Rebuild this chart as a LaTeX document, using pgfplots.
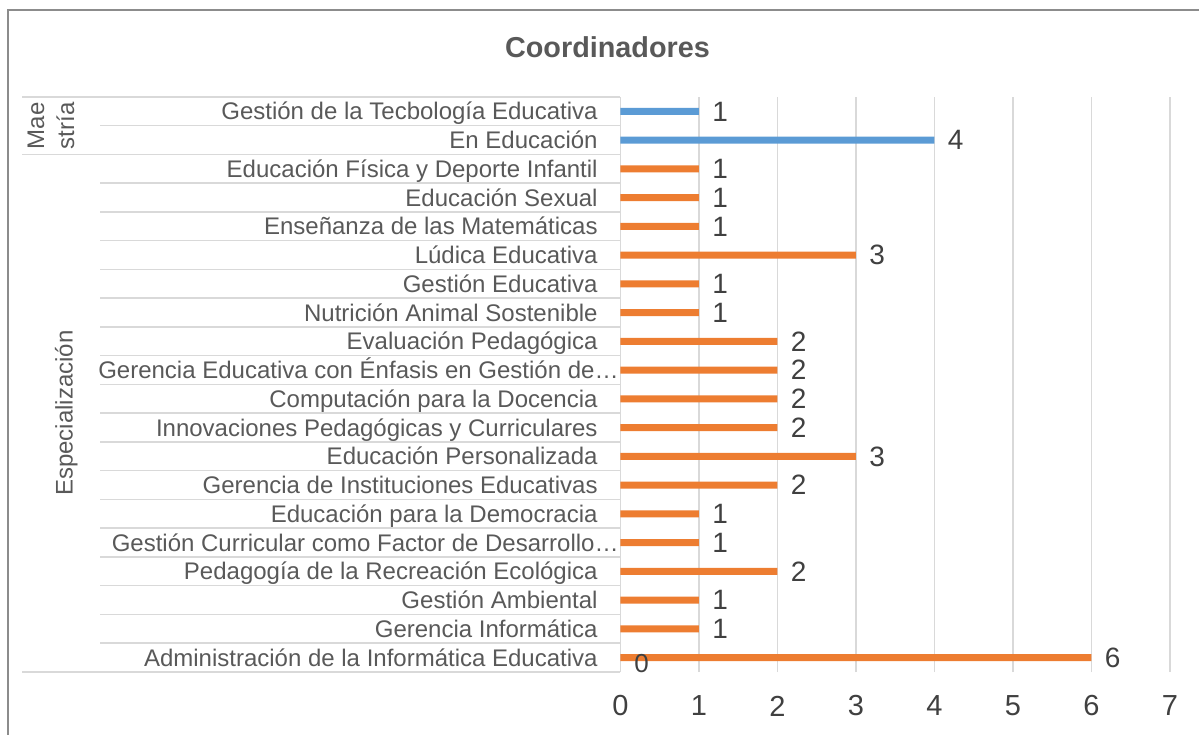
\documentclass[border=0pt]{standalone}
\usepackage{fontspec}
\setmainfont{Liberation Sans}
\usepackage{pgfplots}
\pgfplotsset{compat=1.18}
\definecolor{mblue}{HTML}{5B9BD5}
\definecolor{morange}{HTML}{ED7D31}
\definecolor{gridc}{HTML}{D9D9D9}
\definecolor{txt}{HTML}{595959}
\definecolor{lbl}{HTML}{404040}
\definecolor{framec}{HTML}{8C8C8C}

\begin{document}
\begin{tikzpicture}
\begin{axis}[
  scale only axis, width=274.75bp, height=287.5bp,
  xbar, bar width=3.5bp, bar shift=0pt,
  xmin=0, xmax=7, ymin=-0.5, ymax=19.5,
  xtick={0,...,7}, ytick={0,...,19},
  yticklabels={
    {Administración de la Informática Educativa},
    {Gerencia Informática},
    {Gestión Ambiental},
    {Pedagogía de la Recreación Ecológica},
    {Gestión Curricular como Factor de Desarrollo…\hspace*{-10.5bp}},
    {Educación para la Democracia},
    {Gerencia de Instituciones Educativas},
    {Educación Personalizada},
    {Innovaciones Pedagógicas y Curriculares},
    {Computación para la Docencia},
    {Gerencia Educativa con Énfasis en Gestión de…\hspace*{-10.5bp}},
    {Evaluación Pedagógica},
    {Nutrición Animal Sostenible},
    {Gestión Educativa},
    {Lúdica Educativa},
    {Enseñanza de las Matemáticas},
    {Educación Sexual},
    {Educación Física y Deporte Infantil},
    {En Educación},
    {Gestión de la Tecbología Educativa}},
  axis line style={draw=none}, major tick length=0pt,
  xmajorgrids, grid style={gridc, line width=0.75bp},
  xticklabel style={font=\fontsize{14.5bp}{17bp}\selectfont, text=lbl,
    anchor=center, inner sep=0pt, yshift=-17bp},
  yticklabel style={font=\fontsize{12bp}{14bp}\selectfont, text=txt,
    anchor=base east, inner sep=0pt, xshift=-11.25bp, yshift=-4.3bp},
  /pgf/number format/assume math mode=true,
  nodes near coords,
  nodes near coords style={font=\fontsize{14bp}{16bp}\selectfont, text=lbl,
    anchor=west, inner sep=0pt, xshift=6.5bp},
  clip=false,
]
% Maestría
\addplot[draw=none, fill=mblue] coordinates {(1,19) (4,18)};
% Especialización
\addplot[draw=none, fill=morange] coordinates {
  (6,0) (1,1) (1,2) (2,3) (1,4) (1,5) (2,6) (3,7) (2,8) (2,9)
  (2,10) (2,11) (1,12) (1,13) (3,14) (1,15) (1,16) (1,17)};

% category table lines
\pgfplotsinvokeforeach{0.5,1.5,...,16.5}{
  \draw[gridc, line width=0.75bp] (axis cs:-6.63,#1) -- (axis cs:0,#1);
}
\draw[gridc, line width=0.75bp] (axis cs:-6.63,18.5) -- (axis cs:0,18.5);
\pgfplotsinvokeforeach{-0.5,17.5,19.5}{
  \draw[gridc, line width=0.75bp] (axis cs:-7.62,#1) -- (axis cs:0,#1);
}
\node[rotate=90, align=center, font=\fontsize{12bp}{15bp}\selectfont, text=txt]
  at (axis cs:-7.255,18.5) {Mae\\stría};
\node[rotate=90, font=\fontsize{12bp}{15bp}\selectfont, text=txt]
  at (axis cs:-7.06,8.5) {Especialización};
\node[font=\fontsize{13bp}{15bp}\selectfont, text=lbl, inner sep=0pt]
  at (axis cs:0.27,-0.22) {0};
\end{axis}
\node[font=\fontsize{14.4bp}{17bp}\selectfont\bfseries, text=txt] at (-6.5bp,312.5bp) {Coordinadores};
\draw[framec, line width=1bp] (-306.25bp,-40bp) -- (-306.25bp,331bp) -- (300bp,331bp);
\pgfresetboundingbox
\path[use as bounding box] (-310.25bp,-31.5bp) rectangle (289.25bp,336bp);
\end{tikzpicture}
\end{document}
